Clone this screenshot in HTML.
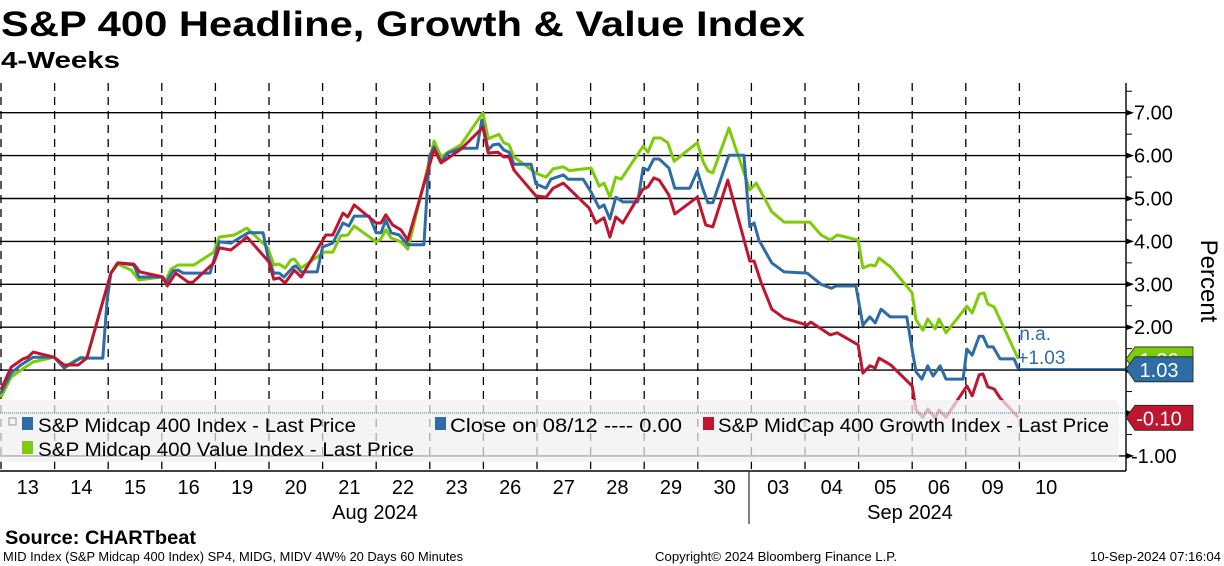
<!DOCTYPE html>
<html><head><meta charset="utf-8"><style>
html,body{margin:0;padding:0;background:#fff;}
svg{display:block;font-family:"Liberation Sans","DejaVu Sans",sans-serif;}
</style></head><body>
<svg id="chart" width="1224" height="566" viewBox="0 0 1224 566" xmlns="http://www.w3.org/2000/svg">
<rect x="0" y="0" width="1224" height="566" fill="#fff"/>
<text x="1" y="36" font-size="35" font-weight="bold" textLength="804" lengthAdjust="spacingAndGlyphs">S&amp;P 400 Headline, Growth &amp; Value Index</text>
<text x="1" y="68" font-size="23" font-weight="bold" textLength="119" lengthAdjust="spacingAndGlyphs">4-Weeks</text>
<g id="grid"></g>
<g id="series"></g>
<g id="legend">
<rect x="-4" y="400" width="1123" height="62" rx="5" fill="rgba(240,240,240,0.72)"/>
<line x1="0" y1="413" x2="1126" y2="413" stroke="#3b78b5" stroke-width="1" stroke-dasharray="1,1"/>
<rect x="9" y="418" width="7" height="7" fill="none" stroke="#999" stroke-width="1"/>
<rect x="22" y="417" width="11" height="13" fill="#2e6ca6"/>
<text x="38" y="432" font-size="19" textLength="318" lengthAdjust="spacingAndGlyphs">S&amp;P Midcap 400 Index - Last Price</text>
<rect x="435" y="417" width="11" height="13" fill="#2e6ca6"/>
<text x="450" y="432" font-size="19" textLength="232" lengthAdjust="spacingAndGlyphs">Close on 08/12 ---- 0.00</text>
<rect x="703" y="417" width="11" height="13" fill="#c0152f"/>
<text x="718" y="432" font-size="19" textLength="391" lengthAdjust="spacingAndGlyphs">S&amp;P MidCap 400 Growth Index - Last Price</text>
<rect x="22" y="441" width="11" height="13" fill="#7ecb09"/>
<text x="38" y="456" font-size="19" textLength="376" lengthAdjust="spacingAndGlyphs">S&amp;P Midcap 400 Value Index - Last Price</text>
</g>
<g id="axes"></g>
<g id="tags"></g>
<text x="375" y="519" font-size="20" text-anchor="middle">Aug 2024</text>
<text x="910" y="519" font-size="20" text-anchor="middle">Sep 2024</text>
<line x1="749" y1="472" x2="749" y2="524" stroke="#000" stroke-width="1"/>
<text transform="translate(1201,281) rotate(90)" font-size="24" text-anchor="middle">Percent</text>
<text x="5" y="544" font-size="19" font-weight="bold" textLength="191" lengthAdjust="spacingAndGlyphs">Source: CHARTbeat</text>
<text x="3" y="561" font-size="13" textLength="460" lengthAdjust="spacingAndGlyphs">MID Index (S&amp;P Midcap 400 Index) SP4, MIDG, MIDV 4W% 20 Days 60 Minutes</text>
<text x="655" y="561" font-size="13" textLength="242" lengthAdjust="spacingAndGlyphs">Copyright© 2024 Bloomberg Finance L.P.</text>
<text x="1090" y="561" font-size="13" textLength="131" lengthAdjust="spacingAndGlyphs">10-Sep-2024 07:16:04</text>
</svg>
<script>
const dayLabels = ["13","14","15","16","19","20","21","22","23","26","27","28","29","30","03","04","05","06","09","10"];
const yTicks = [7,6,5,4,3,2,1,0,-1];
const yTickLabels = ["7.00","6.00","5.00","4.00","3.00","2.00","","","-1.00"];
const indexSeries = [[0,.47],[.19,.93],[.37,1.12],[.6,1.3],[.99,1.3],[1.18,1.05],[1.36,1.19],[1.49,1.28],[1.9,1.28],[1.98,2.63],[2.05,3.26],[2.18,3.5],[2.48,3.45],[2.57,3.17],[2.99,3.17],[3.08,3.05],[3.21,3.31],[3.3,3.33],[3.4,3.26],[3.9,3.26],[4.07,3.99],[4.29,3.96],[4.61,4.2],[4.89,4.2],[4.98,3.64],[5.09,3.26],[5.19,3.26],[5.28,3.17],[5.45,3.4],[5.5,3.43],[5.6,3.29],[5.9,3.29],[6.0,3.87],[6.19,3.96],[6.38,4.43],[6.49,4.36],[6.59,4.59],[6.87,4.59],[7.0,4.2],[7.09,4.2],[7.18,4.5],[7.28,4.2],[7.43,4.15],[7.59,3.92],[7.89,3.92],[7.99,5.97],[8.08,6.2],[8.21,5.85],[8.34,6.06],[8.58,6.17],[8.88,6.17],[8.97,6.83],[9.09,6.13],[9.18,6.25],[9.29,6.27],[9.38,6.13],[9.48,6.08],[9.57,5.8],[9.89,5.8],[9.98,5.34],[10.17,5.24],[10.26,5.45],[10.49,5.55],[10.58,5.45],[10.86,5.45],[11.01,5.15],[11.16,4.78],[11.25,4.85],[11.36,4.52],[11.47,5.03],[11.6,4.92],[11.88,4.92],[11.98,5.71],[12.07,5.66],[12.18,5.92],[12.28,5.92],[12.46,5.71],[12.57,5.24],[12.85,5.24],[12.99,5.64],[13.1,5.2],[13.19,4.9],[13.28,4.9],[13.58,6.01],[13.86,6.01],[13.97,4.34],[14.05,4.43],[14.14,4.03],[14.38,3.5],[14.61,3.29],[15.04,3.26],[15.3,3.0],[15.49,2.91],[15.58,2.96],[15.95,2.96],[16.08,2.05],[16.21,2.24],[16.31,2.1],[16.42,2.42],[16.59,2.24],[16.9,2.24],[17.0,1.47],[17.07,.96],[17.18,.79],[17.29,1.1],[17.39,.86],[17.52,1.1],[17.63,.79],[17.95,.79],[18.02,1.49],[18.12,1.35],[18.25,1.79],[18.32,1.79],[18.41,1.54],[18.51,1.54],[18.64,1.26],[18.9,1.26],[18.98,1.03]];
const growthSeries = [[0,.54],[.19,1.07],[.41,1.26],[.5,1.3],[.6,1.42],[.99,1.3],[1.18,1.12],[1.44,1.12],[1.6,1.28],[2.05,3.26],[2.18,3.5],[2.48,3.47],[2.59,3.29],[3.02,3.17],[3.1,2.96],[3.26,3.26],[3.49,3.05],[3.58,3.05],[3.97,3.5],[4.07,3.85],[4.29,3.8],[4.59,4.1],[5.0,3.52],[5.09,3.12],[5.19,3.15],[5.3,3.03],[5.47,3.33],[5.6,3.17],[6.06,4.15],[6.19,4.15],[6.38,4.66],[6.47,4.57],[6.59,4.85],[7.0,4.43],[7.09,4.43],[7.18,4.62],[7.31,4.38],[7.46,4.27],[7.59,4.03],[8.08,6.15],[8.21,5.83],[8.34,5.94],[8.58,6.15],[8.99,6.66],[9.09,6.06],[9.27,6.08],[9.38,5.97],[9.48,5.97],[9.57,5.66],[9.98,5.06],[10.17,5.03],[10.3,5.24],[10.49,5.36],[10.97,4.78],[11.1,4.43],[11.25,4.55],[11.36,4.1],[11.47,4.57],[11.6,4.43],[11.98,5.22],[12.07,5.27],[12.18,5.48],[12.28,5.43],[12.46,5.08],[12.57,4.64],[12.99,5.03],[13.15,4.38],[13.28,4.34],[13.56,5.43],[13.97,3.54],[14.05,3.54],[14.18,3.05],[14.38,2.42],[14.61,2.21],[15.04,2.05],[15.11,2.12],[15.47,1.82],[15.6,1.87],[15.99,1.59],[16.08,.93],[16.21,1.1],[16.31,1.05],[16.38,1.28],[16.6,1.12],[17.0,.63],[17.07,.07],[17.2,-.1],[17.29,.09],[17.43,-.12],[17.5,.07],[17.63,-.1],[18.02,.63],[18.12,.4],[18.25,.89],[18.32,.91],[18.41,.61],[18.53,.56],[18.64,.35],[18.98,-.1]];
const valueSeries = [[0,.37],[.19,.84],[.37,1.0],[.6,1.19],[.99,1.3],[1.18,1.07],[1.49,1.3],[1.6,1.28],[2.05,3.26],[2.18,3.47],[2.43,3.33],[2.57,3.1],[2.99,3.17],[3.08,3.1],[3.17,3.35],[3.3,3.45],[3.6,3.45],[3.97,3.75],[4.07,4.1],[4.35,4.15],[4.59,4.31],[4.98,3.85],[5.09,3.45],[5.19,3.47],[5.3,3.38],[5.41,3.57],[5.47,3.59],[5.6,3.38],[6.03,3.75],[6.19,3.75],[6.34,4.13],[6.47,4.15],[6.59,4.36],[7.0,3.99],[7.09,4.06],[7.18,4.27],[7.28,4.08],[7.46,3.99],[7.59,3.82],[8.08,6.34],[8.21,5.97],[8.34,6.08],[8.58,6.25],[8.99,7.0],[9.09,6.39],[9.29,6.5],[9.38,6.3],[9.48,6.25],[9.57,5.97],[9.98,5.59],[10.17,5.5],[10.3,5.69],[10.49,5.74],[10.6,5.65],[11.01,5.71],[11.16,5.29],[11.25,5.36],[11.36,5.03],[11.47,5.5],[11.57,5.45],[11.98,6.22],[12.07,6.08],[12.18,6.41],[12.31,6.41],[12.44,6.3],[12.56,5.87],[12.99,6.3],[13.1,5.85],[13.19,5.64],[13.28,5.6],[13.58,6.64],[13.97,5.2],[14.09,5.36],[14.38,4.69],[14.61,4.45],[15.09,4.45],[15.3,4.15],[15.47,4.03],[15.6,4.15],[15.99,4.03],[16.08,3.38],[16.21,3.45],[16.31,3.43],[16.38,3.61],[16.6,3.4],[17.0,2.8],[17.07,2.17],[17.2,1.93],[17.29,2.19],[17.43,1.96],[17.5,2.19],[17.63,1.87],[18.02,2.49],[18.12,2.33],[18.25,2.77],[18.34,2.8],[18.41,2.54],[18.53,2.47],[18.98,1.26]];
const lastIndex = 1.03;
const lastGrowth = -0.10;
const lastValue = 1.26;

const NS = "http://www.w3.org/2000/svg";
const X0 = 1, DAYW = 53.6, Y0 = 413, UNIT = 42.9, AXISX = 1126, TOP = 83, BOTTOM = 471;
function xScale(t){ return X0 + DAYW * t; }
function yScale(v){ return Y0 - UNIT * v; }
function mk(tag, attrs, parent){ const e = document.createElementNS(NS, tag); for (const k in attrs) e.setAttribute(k, attrs[k]); parent.appendChild(e); return e; }

const grid = document.getElementById('grid');
const axes = document.getElementById('axes');
const series = document.getElementById('series');
const tags = document.getElementById('tags');

for (let i = 0; i < dayLabels.length; i++) {
  const x = xScale(i);
  const l = mk('line', {x1:x, y1:TOP, x2:x, y2:BOTTOM, stroke:'#000', 'stroke-width':1.3, 'stroke-dasharray':'8,6'}, grid);
  
  
  const tx = mk('text', {x: xScale(i + 0.5), y: 494, 'font-size': 20, 'text-anchor':'middle'}, axes);
  tx.textContent = dayLabels[i];
  
  
}
for (let i = 0; i < yTicks.length; i++) {
  const v = yTicks[i];
  const y = yScale(v);
  if (v !== 0) {
    const l = mk('line', {x1:0, y1:y, x2:AXISX, y2:y, stroke:'#000', 'stroke-width':1.4}, grid);
    
    
  }
  const tk = mk('path', {d:`M${AXISX} ${y-3} L${AXISX+8} ${y} L${AXISX} ${y+3} Z`, fill:'#000'}, axes);
  
  
  const m = mk('line', {x1:AXISX, y1:yScale(v+0.5), x2:AXISX+6, y2:yScale(v+0.5), stroke:'#000', 'stroke-width':1}, axes);
  
  
  if (yTickLabels[i]) {
    const t = mk('text', {x: v < 0 ? 1131 : 1134, y: y + 7, 'font-size': 20}, axes);
    t.textContent = yTickLabels[i];
    
    
  }
}
const ax = mk('line', {x1:AXISX, y1:TOP, x2:AXISX, y2:BOTTOM, stroke:'#000', 'stroke-width':1.4}, axes);


const xa = mk('line', {x1:0, y1:BOTTOM, x2:AXISX, y2:BOTTOM, stroke:'#000', 'stroke-width':1.4}, axes);



function drawSeries(data, color, name) {
  const d = data.map((p, i) => (i ? 'L' : 'M') + xScale(p[0]).toFixed(1) + ' ' + yScale(p[1]).toFixed(1)).join(' ');
  const path = mk('path', {d: d, fill:'none', stroke: color, 'stroke-width': 3, 'stroke-linejoin':'round'}, series);
  
  
}
drawSeries(valueSeries, '#7ecb09', 'value-index-line');
drawSeries(indexSeries, '#2e6ca6', 'midcap-index-line');
drawSeries(growthSeries, '#c0152f', 'growth-index-line');
const lastX = xScale(indexSeries[indexSeries.length-1][0]);
const ext = mk('line', {x1:lastX, y1:yScale(lastIndex), x2:AXISX, y2:yScale(lastIndex), stroke:'#2e6ca6', 'stroke-width':1.5}, series);


const na = mk('text', {x: lastX + 1, y: yScale(lastIndex) - 29, 'font-size': 19, fill:'#2e6ca6'}, tags);
na.textContent = 'n.a.';


const plus = mk('text', {x: lastX - 1, y: yScale(lastIndex) - 5, 'font-size': 19, fill:'#2e6ca6'}, tags);
plus.textContent = '+' + lastIndex.toFixed(2);



function tag(v, color, label, name) {
  const y = yScale(v);
  const g = mk('g', {}, tags);
  
  
  mk('path', {d:`M${AXISX} ${y} L${AXISX+9} ${y-12} L1193 ${y-12} L1193 ${y+13} L${AXISX+9} ${y+13} Z`, fill:color, stroke:'#222', 'stroke-width':0.8}, g);
  const t = mk('text', {x: 1159, y: y + 8, 'font-size': 20, fill:'#fff', 'text-anchor':'middle'}, g);
  t.textContent = label;
}
tag(lastValue, '#7ecb09', lastValue.toFixed(2), 'value-last-tag');
tag(lastIndex, '#2e6ca6', lastIndex.toFixed(2), 'index-last-tag');
tag(lastGrowth, '#c0152f', lastGrowth.toFixed(2), 'growth-last-tag');
const svg = document.getElementById('chart');
svg.insertBefore(document.getElementById('legend'), document.getElementById('axes'));
</script>
</body></html>
